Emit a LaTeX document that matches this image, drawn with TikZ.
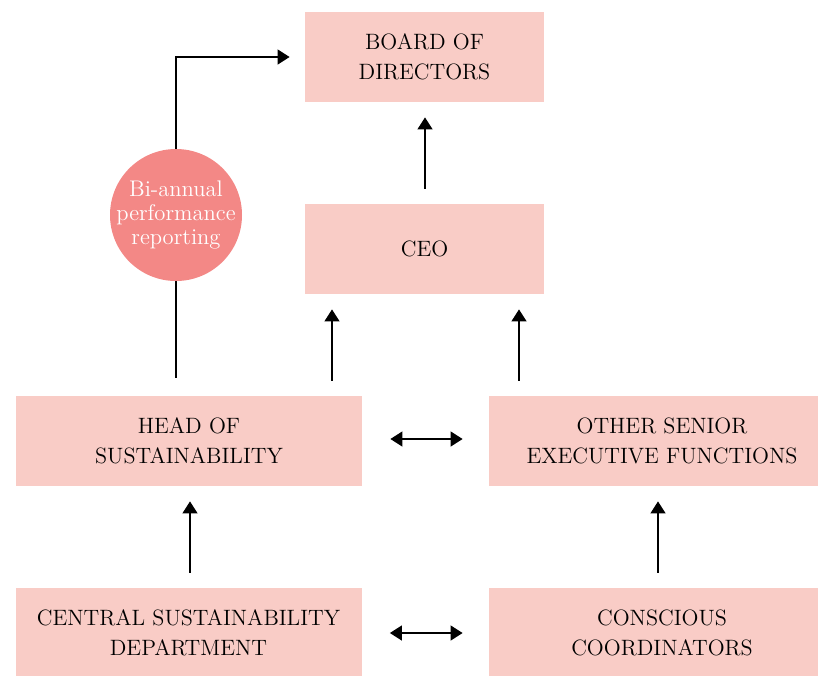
\documentclass[tikz,border=0pt]{standalone}
\usetikzlibrary{arrows.meta}
\definecolor{boxpink}{HTML}{F9CCC6}
\definecolor{circpink}{HTML}{F38886}
\begin{document}
\begin{tikzpicture}[x=0.5pt,y=-0.5pt,
  box/.style={rectangle, fill=boxpink, minimum width=173pt, minimum height=45pt, inner sep=0pt, align=center, font=\fontsize{11.1}{15}\selectfont},
  narrowbox/.style={box, minimum width=119.5pt},
  bubble/.style={circle, fill=circpink, minimum size=66pt, inner sep=0pt},
  bubbletext/.style={inner sep=0pt, align=center, text=white, font=\fontsize{11.3}{12}\selectfont},
  arr/.style={line width=0.65pt, -{Triangle[length=6pt,width=7.5pt]}, shorten >=7.5pt, shorten <=7.5pt},
  darr/.style={line width=0.65pt, {Triangle[length=6pt,width=7.5pt]}-{Triangle[length=6pt,width=7.5pt]}, shorten >=13pt, shorten <=14pt}]
\useasboundingbox (0,0) rectangle (818,675);
\node[narrowbox] (board) at (424.5,57) {BOARD OF\\DIRECTORS};
\node[narrowbox] (ceo) at (424.5,249) {CEO};
\node[box] (head) at (189,441) {HEAD OF\\SUSTAINABILITY};
\node[box] (other) at (662,441) {OTHER SENIOR\\EXECUTIVE FUNCTIONS};
\node[box] (central) at (188.5,633) {CENTRAL SUSTAINABILITY\\DEPARTMENT};
\node[box] (conscious) at (662,633) {CONSCIOUS\\COORDINATORS};
\coordinate (xl) at (176,0);
\coordinate (xa) at (332,0);
\coordinate (xb) at (519,0);
\coordinate (xc) at (425,0);
\coordinate (xd) at (190,0);
\coordinate (xe) at (658,0);
\draw[arr] (ceo.north -| xc) -- (board.south -| xc);
\draw[arr] (head.north -| xa) -- (ceo.south -| xa);
\draw[arr] (other.north -| xb) -- (ceo.south -| xb);
\draw[arr] (central.north -| xd) -- (head.south -| xd);
\draw[arr] (conscious.north -| xe) -- (other.south -| xe);
\draw[arr, shorten <=9pt] (head.north -| xl) |- (board.west);
\node[bubble] (report) at (176,215) {};
\node[bubbletext] (reporttext) at (report.center) {Bi-annual\\performance\\reporting};
\draw[darr] ([yshift=1pt]head.east) -- ([yshift=1pt]other.west);
\draw[darr] (central.east) -- (conscious.west);
\end{tikzpicture}
\end{document}
